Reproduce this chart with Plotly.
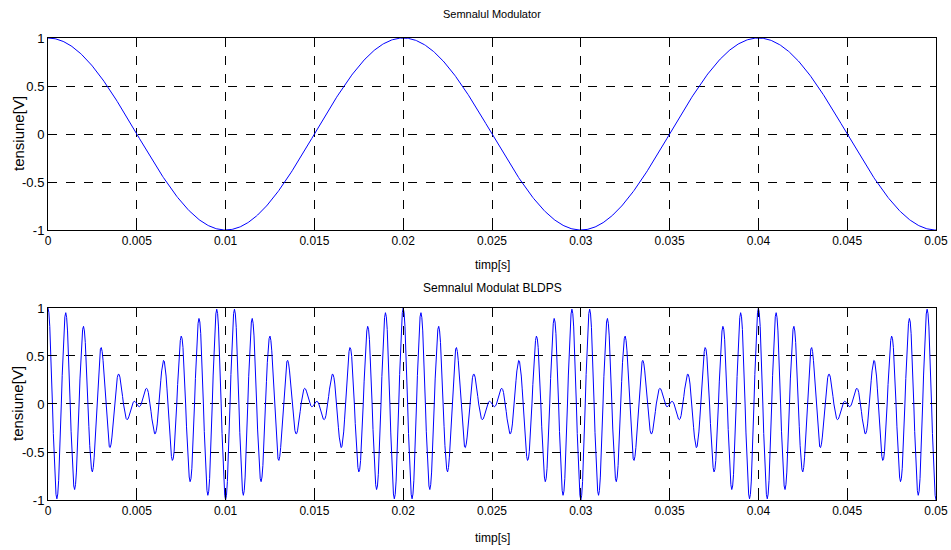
import numpy as np
import plotly.graph_objects as go
from plotly.subplots import make_subplots

# Signal parameters
t_start = 0.0
t_end = 0.05
t_step = 5e-5
f_modulator = 50.0      # Hz  (period 0.02 s)
f_carrier = 1000.0      # Hz  (period 0.001 s)
amplitude = 1.0

x_ticks = [0, 0.005, 0.01, 0.015, 0.02, 0.025, 0.03, 0.035, 0.04, 0.045, 0.05]
x_tick_labels = ["0", "0.005", "0.01", "0.015", "0.02", "0.025", "0.03", "0.035", "0.04", "0.045", "0.05"]
y_ticks = [-1, -0.5, 0, 0.5, 1]
y_tick_labels = ["-1", "-0.5", "0", "0.5", "1"]

titles = ["Semnalul Modulator", "Semnalul Modulat BLDPS"]
x_label = "timp[s]"
y_label = "tensiune[V]"

t = np.arange(t_start, t_end + t_step / 2, t_step)
modulator = amplitude * np.cos(2 * np.pi * f_modulator * t)
modulated = modulator * np.cos(2 * np.pi * f_carrier * t)

fig = make_subplots(rows=2, cols=1)
fig.add_trace(go.Scatter(x=t, y=modulator, mode="lines",
                         line=dict(color="#0000ff", width=1), showlegend=False), row=1, col=1)
fig.add_trace(go.Scatter(x=t, y=modulated, mode="lines",
                         line=dict(color="#0000ff", width=1), showlegend=False), row=2, col=1)

FAM = "Liberation Sans, Arial"
font = dict(family=FAM, size=13, color="black")

axcommon = dict(showline=True, linecolor="black", linewidth=1, mirror="ticks",
                ticks="inside", ticklen=5, tickcolor="black",
                showgrid=True, gridcolor="black", griddash="dash", gridwidth=1,
                zeroline=False, automargin=False, ticklabeloverflow="allow")

fig.update_xaxes(range=[t_start, t_end], tickvals=x_ticks, ticktext=x_tick_labels,
                 tickfont=dict(family=FAM, size=12, color="black"), **axcommon)
fig.update_yaxes(range=[-1, 1], tickvals=y_ticks, ticktext=y_tick_labels,
                 tickfont=font, **axcommon)

top_lo, bot_hi = 0.5844, 0.4156

def ann(text, x, y, xshift=0, yshift=0, size=12, angle=0):
    return dict(text=text, x=x, y=y, xref="paper", yref="paper", xshift=xshift, yshift=yshift,
                xanchor="center", yanchor="middle", textangle=angle, showarrow=False,
                font=dict(family=FAM, size=size, color="black"))

fig.update_layout(
    width=951, height=550,
    margin=dict(l=48, r=15, t=38, b=50),
    plot_bgcolor="white", paper_bgcolor="white",
    font=font,
    xaxis=dict(domain=[0, 1], anchor="y"),
    yaxis=dict(domain=[top_lo, 1.0], anchor="x"),
    xaxis2=dict(domain=[0, 1], anchor="y2"),
    yaxis2=dict(domain=[0.0, bot_hi], anchor="x2"),
    annotations=[
        ann(titles[0], 0.5, 1.0, yshift=24, size=11),
        ann(titles[1], 0.5, bot_hi, yshift=20, size=12),
        ann(x_label, 0.5, top_lo, yshift=-35, size=12),
        ann(x_label, 0.5, 0.0, yshift=-38, size=12),
        ann(y_label, 0.0, (top_lo + 1.0) / 2, xshift=-30, size=15, angle=-90),
        ann(y_label, 0.0, bot_hi / 2, xshift=-30, size=15, angle=-90),
    ],
)

fig.write_html("out.html",
               config={"displayModeBar": False},
               post_script="document.body.style.margin='0';document.body.style.overflow='hidden';")
